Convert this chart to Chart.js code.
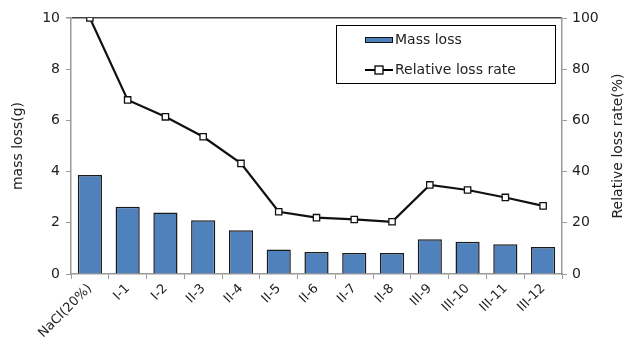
<!DOCTYPE html>
<html>
<head>
<meta charset="utf-8">
<script src="https://cdn.jsdelivr.net/npm/chart.js@4.4.1/dist/chart.umd.min.js"></script>
<style>
  html, body { margin: 0; padding: 0; background: #fff; }
  #wrap { width: 632px; height: 354px; position: relative; }
</style>
</head>
<body>
<div id="wrap"><canvas id="c"></canvas></div>
<script>
// Specimens and measured results
const categories = ['NaCl(20%)', 'I-1', 'I-2', 'II-3', 'II-4', 'II-5', 'II-6', 'II-7', 'II-8', 'III-9', 'III-10', 'III-11', 'III-12'];
const massLoss = [3.87, 2.63, 2.40, 2.10, 1.71, 0.96, 0.86, 0.82, 0.82, 1.36, 1.26, 1.16, 1.05];
const relativeLossRate = [100, 68.0, 61.4, 53.6, 43.2, 24.3, 22.0, 21.3, 20.4, 34.8, 32.8, 29.9, 26.6];
const leftTicks = [0, 2, 4, 6, 8, 10];
const rightTicks = [0, 20, 40, 60, 80, 100];
const rightTitle = 'Relative loss rate(%)';

const FONT = 'DejaVu Sans';
const TEXT = '#222';
const AXIS = '#9a9a9a';

// Legend box inside the plot area (top-right) and the right-hand axis title
const boxLegend = {
  id: 'boxLegend',
  afterDraw(chart) {
    const ctx = chart.ctx;
    const a = chart.chartArea;
    const bars = chart.data.datasets.find(d => d.type === 'bar');
    const line = chart.data.datasets.find(d => d.type === 'line');
    const x0 = a.right - 226, y0 = a.top + 7, w = 219, h = 58;
    ctx.save();
    ctx.fillStyle = '#fff';
    ctx.fillRect(x0, y0, w, h);
    ctx.strokeStyle = '#000';
    ctx.lineWidth = 1;
    ctx.strokeRect(x0 + 0.5, y0 + 0.5, w, h);
    ctx.font = '14px ' + FONT;
    ctx.textBaseline = 'middle';
    // bar swatch
    const sx = x0 + 29, sy1 = y0 + 15;
    ctx.fillStyle = bars.backgroundColor;
    ctx.fillRect(sx, sy1 - 3, 28, 6);
    ctx.strokeStyle = '#111';
    ctx.strokeRect(sx + 0.5, sy1 - 2.5, 27, 5);
    ctx.fillStyle = TEXT;
    ctx.fillText(bars.label, sx + 30, sy1);
    // line swatch
    const sy2 = y0 + 45;
    ctx.strokeStyle = '#000';
    ctx.lineWidth = 2;
    ctx.beginPath();
    ctx.moveTo(sx, sy2); ctx.lineTo(sx + 28, sy2);
    ctx.stroke();
    ctx.fillStyle = '#fff';
    ctx.lineWidth = 1.3;
    ctx.fillRect(sx + 10, sy2 - 4, 8, 8);
    ctx.strokeRect(sx + 10, sy2 - 4, 8, 8);
    ctx.fillStyle = TEXT;
    ctx.fillText(line.label, sx + 30, sy2);

    // right axis title, reading bottom to top
    ctx.translate(618, (a.top + a.bottom) / 2);
    ctx.rotate(-Math.PI / 2);
    ctx.textAlign = 'center';
    ctx.fillText(rightTitle, 0, 0);
    ctx.restore();
  }
};

new Chart(document.getElementById('c'), {
  data: {
    labels: categories,
    datasets: [
      {
        type: 'line',
        label: 'Relative loss rate',
        data: relativeLossRate,
        yAxisID: 'y2',
        borderColor: '#111',
        borderWidth: 2.2,
        pointStyle: 'rect',
        pointRadius: 4.5,
        pointBackgroundColor: '#fff',
        pointBorderColor: '#111',
        pointBorderWidth: 1.3,
        tension: 0,
        order: 0
      },
      {
        type: 'bar',
        label: 'Mass loss',
        data: massLoss,
        yAxisID: 'y',
        backgroundColor: '#4F81BD',
        borderColor: '#1a1a1a',
        borderWidth: 1.5,
        categoryPercentage: 1,
        barPercentage: 0.64,
        order: 1
      }
    ]
  },
  options: {
    responsive: true,
    maintainAspectRatio: false,
    animation: false,
    layout: { padding: { top: 18, left: 0, right: 0, bottom: 0 } },
    plugins: { legend: { display: false }, tooltip: { enabled: false } },
    scales: {
      x: {
        offset: true,
        grid: { offset: true, drawOnChartArea: false, drawTicks: true, tickLength: 5, color: AXIS },
        border: { color: AXIS, width: 1.5 },
        ticks: { color: TEXT, font: { family: FONT, size: 13 }, minRotation: 45, maxRotation: 45, padding: 2 },
        afterFit(s) { s.height = 80; }
      },
      y: {
        position: 'left',
        min: 0, max: 10,
        afterBuildTicks(s) { s.ticks = leftTicks.map(v => ({ value: v })); },
        grid: {
          drawTicks: true, tickLength: 5,
          color: ctx => (ctx.tick && ctx.tick.value === 10) ? '#444' : 'rgba(0,0,0,0)',
          lineWidth: ctx => (ctx.tick && ctx.tick.value === 10) ? 1.5 : 1,
          tickColor: AXIS
        },
        border: { color: AXIS, width: 1.5 },
        ticks: { color: TEXT, font: { family: FONT, size: 14 }, padding: 6 },
        title: { display: true, text: 'mass loss(g)', color: TEXT, font: { family: FONT, size: 14 }, padding: { top: 10, bottom: 0 } },
        afterFit(s) { s.width = 71; }
      },
      y2: {
        position: 'right',
        min: 0, max: 100,
        afterBuildTicks(s) { s.ticks = rightTicks.map(v => ({ value: v })); },
        grid: { drawOnChartArea: false, drawTicks: true, tickLength: 5, color: AXIS },
        border: { color: AXIS, width: 1.5 },
        ticks: { color: TEXT, font: { family: FONT, size: 14 }, padding: 5 },
        afterFit(s) { s.width = 70; }
      }
    }
  },
  plugins: [boxLegend]
});
</script>
</body>
</html>
